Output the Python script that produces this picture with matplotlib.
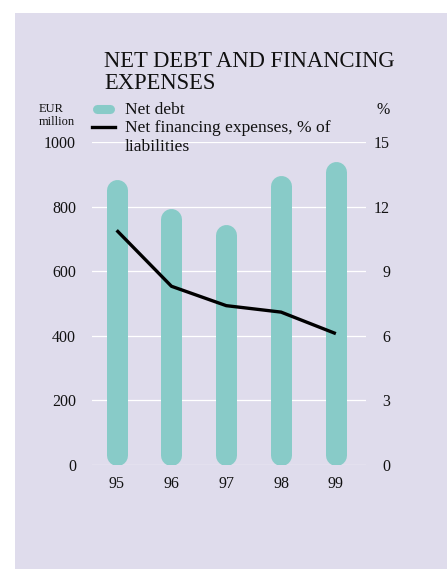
import matplotlib.pyplot as plt
from matplotlib.lines import Line2D
from matplotlib.patches import Rectangle

# --- data ---
years = ['95', '96', '97', '98', '99']
net_debt = [885, 795, 745, 895, 940]            # EUR million
fin_exp = [10.9, 8.3, 7.4, 7.1, 6.1]            # % of liabilities
left_ticks = [0, 200, 400, 600, 800, 1000]
right_ticks = [0, 3, 6, 9, 12, 15]

teal = '#88cbc8'
panel = '#dfdcec'
ink = '#111111'

plt.rcParams['font.family'] = ['Liberation Serif', 'DejaVu Serif']

W, H = 447, 569
fig = plt.figure(figsize=(W / 100, H / 100), dpi=100)
fig.patches.append(Rectangle((15 / W, 0), 1, (H - 13) / H, transform=fig.transFigure,
                             facecolor=panel, edgecolor='none', zorder=-10))

ax_l, ax_r, ax_b, ax_t = 92, 366, 465, 142
ax = fig.add_axes([ax_l / W, 1 - ax_b / H, (ax_r - ax_l) / W, (ax_b - ax_t) / H])
ax.set_facecolor('none')
ax.set_xlim(-0.45, 4.55)
ax.set_ylim(0, 1000)

# --- capsule bars (thick lines with round caps) ---
bar_px = 21
r = (bar_px / 2) * 1000 / (ax_b - ax_t)   # cap radius in data units
x = list(range(len(years)))
bars = ax.vlines(x, r, [v - r for v in net_debt], colors=teal,
                 linewidth=bar_px * 0.72, zorder=3)
bars.set_capstyle('round')

for t in left_ticks:
    ax.axhline(t, color='white', lw=0.9, zorder=1)

ax.set_yticks(left_ticks)
ax.set_xticks(x, years)
for s in ax.spines.values():
    s.set_visible(False)
ax.tick_params(length=0, labelsize=11.5, colors=ink)
ax.tick_params(axis='y', pad=11.5)
ax.tick_params(axis='x', pad=8)

ax2 = ax.twinx()
ax2.set_ylim(0, 15)
ax2.set_yticks(right_ticks)
for s in ax2.spines.values():
    s.set_visible(False)
ax2.tick_params(length=0, labelsize=11.5, colors=ink, pad=17.3)
for lab in ax2.get_yticklabels():
    lab.set_horizontalalignment('right')
ax2.plot(x, fin_exp, color='black', lw=2.4, solid_capstyle='butt', zorder=4)

# --- texts ---
fig.text(104 / W, 1 - 51 / H, 'NET DEBT AND FINANCING\nEXPENSES', fontsize=16.3,
         color=ink, va='top', ha='left', linespacing=1.05)
fig.text(39 / W, 1 - 103 / H, 'EUR\nmillion', fontsize=9, color=ink,
         va='top', ha='left', linespacing=1.15)
fig.text(383 / W, 1 - 110 / H, '%', fontsize=11.5, color=ink, va='center', ha='center')

# --- legend, drawn by hand so the line key sits on the first text line ---
fig.lines.append(Line2D([96.5 / W, 110 / W], [1 - 108.5 / H] * 2, transform=fig.transFigure,
                        color=teal, lw=6.5, solid_capstyle='round'))
fig.lines.append(Line2D([92 / W, 115 / W], [1 - 127 / H] * 2, transform=fig.transFigure,
                        color='black', lw=2.4))
fig.text(125 / W, 1 - 102 / H, 'Net debt', fontsize=12.6, color=ink, va='top', ha='left')
fig.text(125 / W, 1 - 120 / H, 'Net financing expenses, % of\nliabilities', fontsize=12.6,
         color=ink, va='top', ha='left', linespacing=1.25)

fig.savefig('out.png', dpi=100)
